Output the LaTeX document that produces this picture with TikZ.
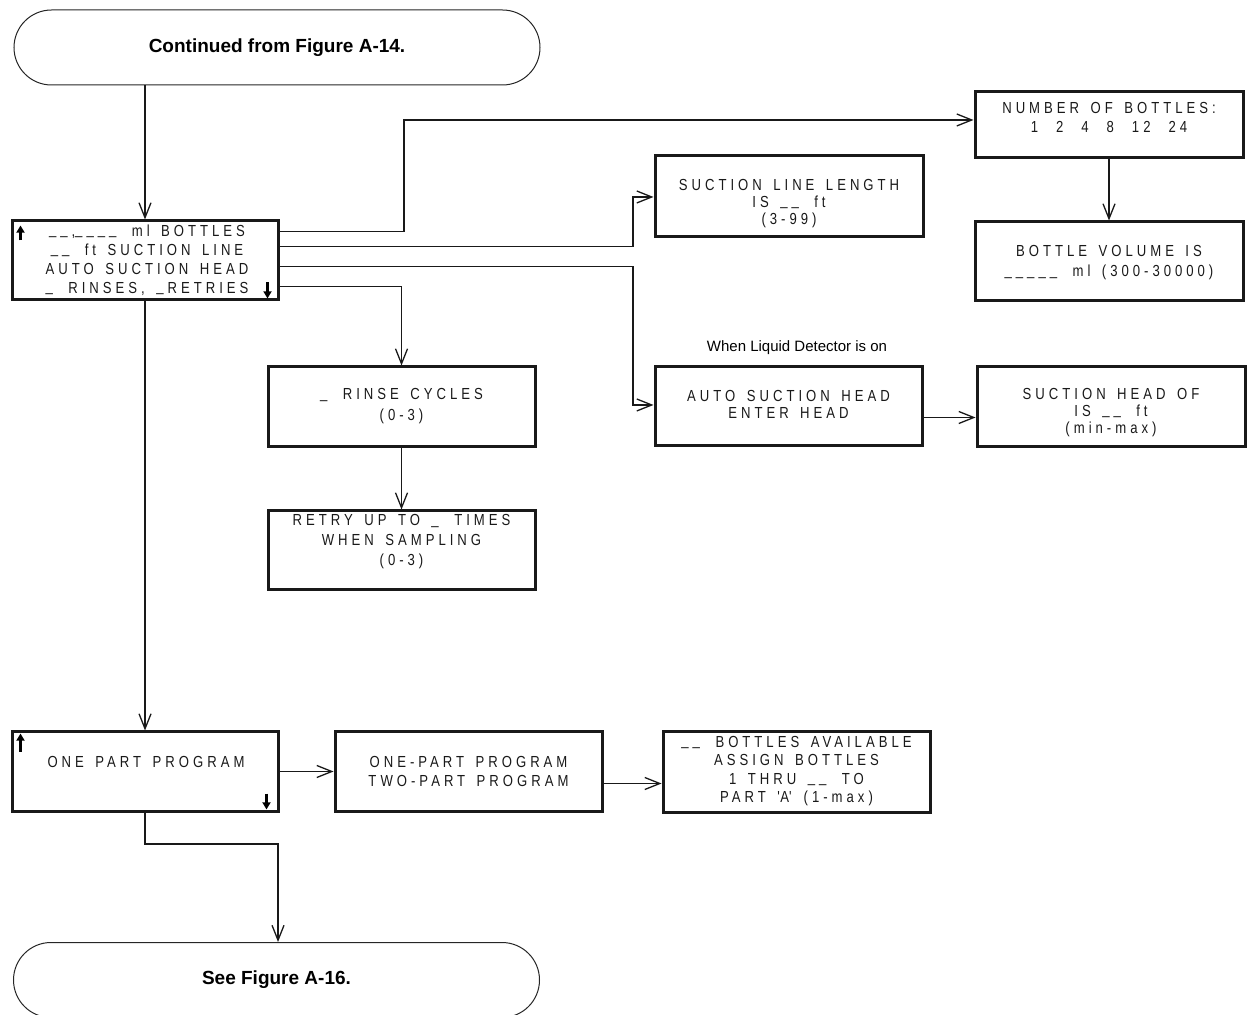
\documentclass[tikz,border=0pt]{standalone}
\usepackage{fontspec}
\setmainfont{Liberation Sans}
\newfontfamily\lcd[FakeStretch=0.82,LetterSpace=25,WordSpace=1.5]{Liberation Sans}
\newcommand\us{\raisebox{0.8pt}{\_}\kern2pt\relax}
\usetikzlibrary{arrows.meta,shapes.misc}
\begin{document}
\begin{tikzpicture}[x=0.5pt,y=-0.5pt,
  box/.style={draw=black!90,line width=1.5pt,rectangle,inner sep=0pt},
  lcdtxt/.style={font=\lcd\fontsize{8pt}{#1}\selectfont,align=center,inner sep=0pt,text=black!90},
  lcdtxt/.default=9.5pt,
  term/.style={draw=black!85,line width=0.5pt,rounded rectangle,minimum width=263pt,minimum height=37.5pt,inner sep=0pt,font=\bfseries\fontsize{9.5pt}{11pt}\selectfont},
  arr/.style={draw=black!90,line width=0.65pt,-{Straight Barb[length=7.5pt,width=6pt]}},
  updn/.style={draw=black,line width=1.1pt,-{Triangle[length=3.6pt,width=4pt]}},
  note/.style={font=\fontsize{7.5pt}{9pt}\selectfont,inner sep=0pt}
]
\useasboundingbox (0,0) rectangle (1248,1015);
\clip (0,0) rectangle (1248,1015);

% terminals
\node[term] (start) at (277,47.5) {Continued from Figure A-14.};
\node[term] (end) at (276.5,980) {See Figure A-16.};

% main menu box
\node[box,minimum width=133pt,minimum height=39.5pt] (mbox) at (145,260.5) {};
\node[lcdtxt] (mboxt) at (147,260) {\us\us,\us\us\us\us\ ml BOTTLES\\\us\us\ ft SUCTION LINE\\AUTO SUCTION HEAD\\\us\ RINSES, \us RETRIES};

% right column
\node[box,minimum width=134pt,minimum height=33pt] (nbot) at (1109,125) {};
\node[lcdtxt] (nbott) at (1109,117.5) {NUMBER OF BOTTLES:\\1\hspace{9pt}2\hspace{9pt}4\hspace{9pt}8\hspace{9pt}12\hspace{9pt}24};
\node[box,minimum width=134pt,minimum height=39.5pt] (bvol) at (1109,261.5) {};
\node[lcdtxt=10pt] (bvolt) at (1109,263) {BOTTLE VOLUME IS\\\us\us\us\us\us\ ml (300-30000)};

\node[box,minimum width=134pt,minimum height=40.5pt] (sll) at (789,196.5) {};
\node[lcdtxt=8.5pt] (sllt) at (789,203.5) {SUCTION LINE LENGTH\\IS \us\us\ ft\\(3-99)};

\node[box,minimum width=133.5pt,minimum height=40pt] (rinse) at (401.5,407) {};
\node[lcdtxt=10.5pt] (rinset) at (401.5,406.5) {\us\ RINSE CYCLES\\(0-3)};
\node[box,minimum width=133.5pt,minimum height=39.5pt] (retry) at (401.5,550.5) {};
\node[lcdtxt=10pt] (retryt) at (401.5,542) {RETRY UP TO \us\ TIMES\\WHEN SAMPLING\\(0-3)};

\node[note] (when) at (797,348) {When Liquid Detector is on};
\node[box,minimum width=133.5pt,minimum height=39.5pt] (auto) at (788.5,406.5) {};
\node[lcdtxt=8.5pt] (autot) at (788.5,404.5) {AUTO SUCTION HEAD\\ENTER HEAD};
\node[box,minimum width=134pt,minimum height=40pt] (shof) at (1111,407) {};
\node[lcdtxt=8.5pt] (shoft) at (1111,412.5) {SUCTION HEAD OF\\IS \us\us\ ft\\(min-max)};

% bottom row
\node[box,minimum width=133pt,minimum height=39.5pt] (onepart) at (145,771.5) {};
\node[lcdtxt] (oneparttx) at (146,762) {ONE PART PROGRAM};
\node[box,minimum width=133.5pt,minimum height=39.5pt] (onetwo) at (468.5,771.5) {};
\node[lcdtxt] (onetwot) at (468.5,771.5) {ONE-PART PROGRAM\\TWO-PART PROGRAM};
\node[box,minimum width=133.5pt,minimum height=40pt] (bavail) at (796.5,772) {};
\node[lcdtxt=9.3pt] (bavailt) at (796.5,771) {\us\us\ BOTTLES AVAILABLE\\ASSIGN BOTTLES\\1 THRU \us\us\ TO\\PART \textquotesingle A\textquotesingle\ (1-max)};

% scroll arrows
\draw[updn] ([shift={(5pt,-10.5pt)}]mbox.north west) -- ([shift={(5pt,-3pt)}]mbox.north west);
\draw[updn] ([shift={(-6pt,9.5pt)}]mbox.south east) -- ([shift={(-6pt,1.5pt)}]mbox.south east);
\draw[updn] ([shift={(5pt,-10.5pt)}]onepart.north west) -- ([shift={(5pt,-1.5pt)}]onepart.north west);
\draw[updn] ([shift={(-6.5pt,9.5pt)}]onepart.south east) -- ([shift={(-6.5pt,1.5pt)}]onepart.south east);

% connectors
\draw[arr] (start.south -| mbox.north) -- (mbox.north);

\coordinate (a1) at ([yshift=-6pt]mbox.north east);
\coordinate (j1) at (404,120);
\draw[arr] (a1) -| (j1) -- (j1 -| nbot.west);

\coordinate (a2) at ([yshift=-13.5pt]mbox.north east);
\coordinate (j2) at (633,197);
\draw[arr] (a2) -| (j2) -- (j2 -| sll.west);

\coordinate (a3) at ([yshift=-23.5pt]mbox.north east);
\coordinate (j3) at (633,405);
\draw[arr] (a3) -| (j3) -- (j3 -| auto.west);

\coordinate (a4) at ([yshift=-33.5pt]mbox.north east);
\draw[arr] (a4) -| (rinse.north);

\draw[arr] (rinse.south) -- (retry.north);
\draw[arr] (nbot.south) -- (bvol.north);

\coordinate (a8) at ([yshift=-5.5pt]auto.east);
\draw[arr] (a8) -- (a8 -| shof.west);

\draw[arr] (mbox.south) -- (onepart.north);
\draw[arr] (onepart.east) -- (onetwo.west);

\coordinate (a11) at ([yshift=-6pt]onetwo.east);
\draw[arr] (a11) -- (a11 -| bavail.west);

\coordinate (j5) at (278,844);
\draw[arr] (onepart.south) |- (j5) -- (j5 |- end.north);
\end{tikzpicture}
\end{document}
